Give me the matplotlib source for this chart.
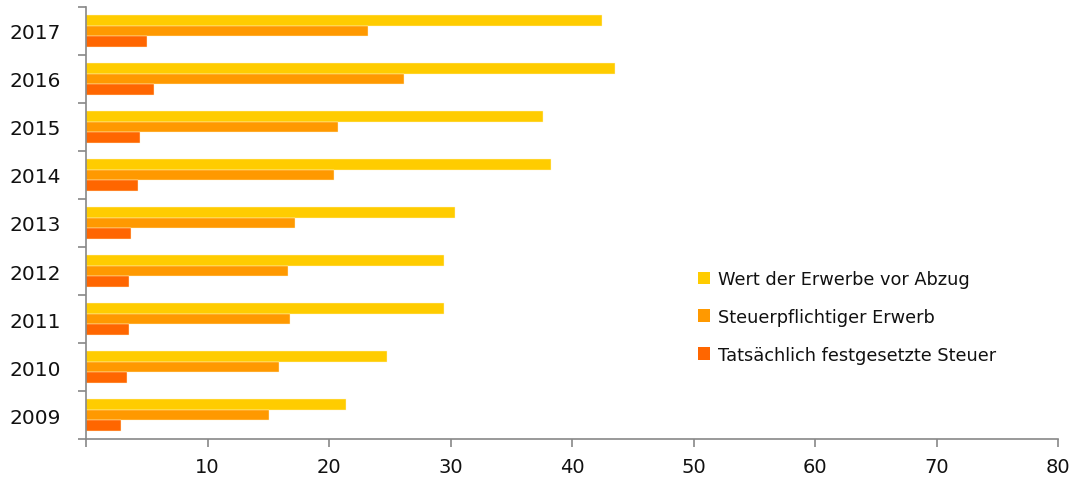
import numpy as np
import matplotlib.pyplot as plt
from matplotlib.patches import Patch

years = ["2009", "2010", "2011", "2012", "2013", "2014", "2015", "2016", "2017"]
wert_vor_abzug = [21.4, 24.8, 29.5, 29.5, 30.4, 38.3, 37.6, 43.5, 42.5]
steuerpfl_erwerb = [15.1, 15.9, 16.75, 16.6, 17.2, 20.4, 20.7, 26.2, 23.2]
festgesetzte_steuer = [2.9, 3.4, 3.5, 3.5, 3.7, 4.3, 4.45, 5.6, 5.0]
series_labels = ["Wert der Erwerbe vor Abzug", "Steuerpflichtiger Erwerb",
                 "Tatsächlich festgesetzte Steuer"]
colors = ["#FFCC00", "#FF9900", "#FF6600"]
xticks = [0, 10, 20, 30, 40, 50, 60, 70, 80]


def main():
    fig = plt.figure(figsize=(10.88, 4.81), dpi=100)
    ax = fig.add_axes([86 / 1088, 1 - 440 / 481, 972 / 1088, 432 / 481])

    y = np.arange(len(years))
    h = 0.225
    for off, vals, col in zip([h, 0, -h],
                              [wert_vor_abzug, steuerpfl_erwerb, festgesetzte_steuer],
                              colors):
        ax.barh(y + off, vals, height=h, color=col, edgecolor="#fff3cc", linewidth=0.3)

    ax.set_xlim(0, 80)
    ax.set_ylim(-0.5, len(years) - 0.5)

    ax.set_xticks(xticks)
    ax.set_xticklabels([""] + [str(t) for t in xticks[1:]])
    ax.set_yticks(y)
    ax.set_yticklabels(years)
    ax.set_yticks(np.arange(-0.5, len(years)), minor=True)

    for side in ["top", "right"]:
        ax.spines[side].set_visible(False)
    for side in ["left", "bottom"]:
        ax.spines[side].set_color("#888888")
        ax.spines[side].set_linewidth(1.2)

    ax.tick_params(axis="x", length=6, width=1.2, color="#888888", pad=7,
                   labelsize=14, labelcolor="#111111")
    ax.tick_params(axis="y", which="major", length=0, pad=18,
                   labelsize=14.5, labelcolor="#111111")
    ax.tick_params(axis="y", which="minor", length=6, width=1.2, color="#888888")

    handles = [Patch(facecolor=c, edgecolor="none") for c in colors]
    fig.legend(handles, series_labels, loc="upper left",
               bbox_to_anchor=(682 / 1088, 1 - 255 / 481), frameon=False,
               fontsize=12.8, handlelength=0.7, handleheight=0.7,
               handletextpad=0.45, labelspacing=1.12, labelcolor="#111111")

    fig.savefig("out.png", dpi=100)


if __name__ == '__main__':
    main()
